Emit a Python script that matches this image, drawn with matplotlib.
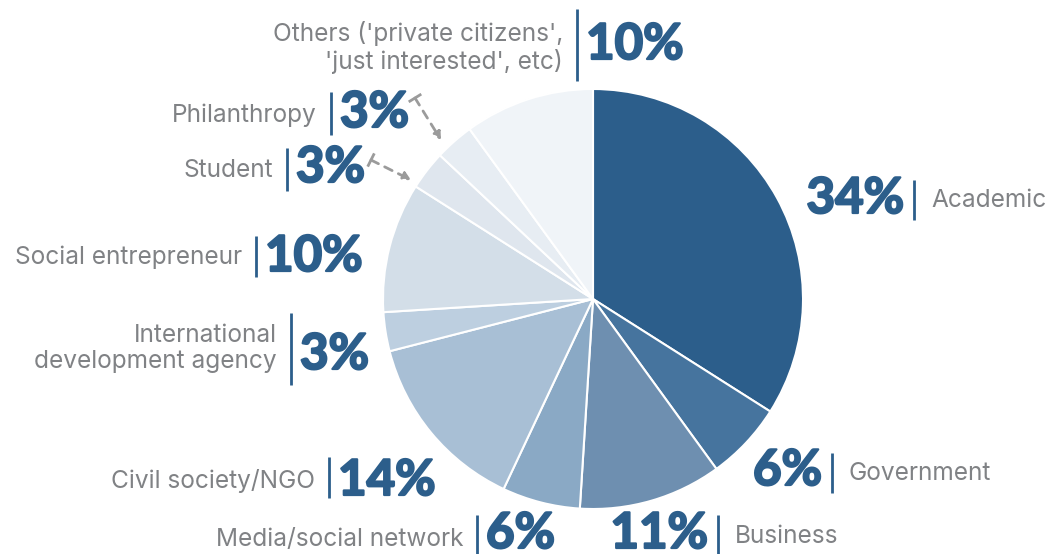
import numpy as np
import matplotlib.pyplot as plt
import matplotlib.patheffects as pe

categories = ["Academic", "Government", "Business", "Media/social network",
              "Civil society/NGO", "International\ndevelopment agency",
              "Social entrepreneur", "Student", "Philanthropy",
              "Others ('private citizens',\n'just interested', etc)"]
shares = [34, 6, 11, 6, 14, 3, 10, 3, 3, 10]
slice_colors = ["#2c5e8b", "#46749e", "#6e8fb0", "#8aa9c5", "#a8bfd5",
                "#bdcfe0", "#d3dee8", "#dfe6ee", "#e7edf3", "#f0f4f8"]

W, H = 1048, 554
BLUE = "#2c5e8b"
GREY = "#808285"
NAME_FONT = "Inter"
NUM_FONT = "Lato"

# where each label sits (pixel space, y pointing down):
# bar x, bar top/bottom, baseline of the number, baseline of the name (last line),
# and which side of the bar the name goes
label_pos = [
    dict(x=914, top=180, bot=220, num=213, txt=207, side="right"),
    dict(x=832, top=453, bot=493, num=485, txt=480, side="right"),
    dict(x=718, top=515, bot=556, num=548, txt=543, side="right"),
    dict(x=477, top=515, bot=556, num=548, txt=546, side="left"),
    dict(x=329, top=457, bot=498, num=495, txt=488, side="left"),
    dict(x=291, top=313, bot=385, num=369, txt=368, side="left"),
    dict(x=256, top=236, bot=277, num=271, txt=264, side="left"),
    dict(x=287, top=148, bot=191, num=182, txt=177, side="left"),
    dict(x=331, top=92, bot=135, num=127, txt=122, side="left"),
    dict(x=577, top=9, bot=81, num=59, txt=69, side="left"),
]

fig = plt.figure(figsize=(W / 100, H / 100), dpi=100)
ax = fig.add_axes([0, 0, 1, 1])

ax.pie(shares, colors=slice_colors, center=(593, 299), radius=210,
       startangle=-90, counterclock=True,
       wedgeprops=dict(edgecolor="white", linewidth=1.5))
ax.set_xlim(0, W)
ax.set_ylim(H, 0)
ax.set_aspect("equal")
ax.axis("off")

# fatten the bold numbers a little with a stroke of the same colour
heavy = [pe.withStroke(linewidth=1.6, foreground=BLUE)]
num_style = dict(fontsize=35.5, fontweight="bold", fontstyle="normal",
                 color=BLUE, family=NUM_FONT, va="baseline", path_effects=heavy)

for name, val, p in zip(categories, shares, label_pos):
    ax.plot([p["x"], p["x"]], [p["top"], p["bot"]], color=BLUE, lw=2,
            solid_capstyle="butt")
    pct = f"{val}%"
    if p["side"] == "left":
        ax.text(p["x"] + 9, p["num"], pct, ha="left", **num_style)
        ax.text(p["x"] - 14, p["txt"], name, ha="right", va="baseline",
                fontsize=17.6, color=GREY, family=NAME_FONT,
                linespacing=1.17, multialignment="right")
    else:
        ax.text(p["x"] - 10, p["num"], pct, ha="right", **num_style)
        ax.text(p["x"] + 17, p["txt"], name, ha="left", va="baseline",
                fontsize=17.6, color=GREY, family=NAME_FONT)


def pointer(start, end):
    # dashed arrow with a short cross tick at its tail
    ax.annotate("", xy=end, xytext=start,
                arrowprops=dict(arrowstyle="-|>, head_length=0.45, head_width=0.25",
                                color="#9b9b9b", lw=2, linestyle=(0, (3, 2.5)),
                                shrinkA=0, shrinkB=0))
    d = np.subtract(end, start) / np.hypot(*np.subtract(end, start))
    n = np.array([-d[1], d[0]]) * 6
    ax.plot([start[0] - n[0], start[0] + n[0]], [start[1] - n[1], start[1] + n[1]],
            color="#9b9b9b", lw=2)


pointer((415, 98), (441, 140))
pointer((371, 160), (411, 180))

fig.savefig("out.png", dpi=100)
